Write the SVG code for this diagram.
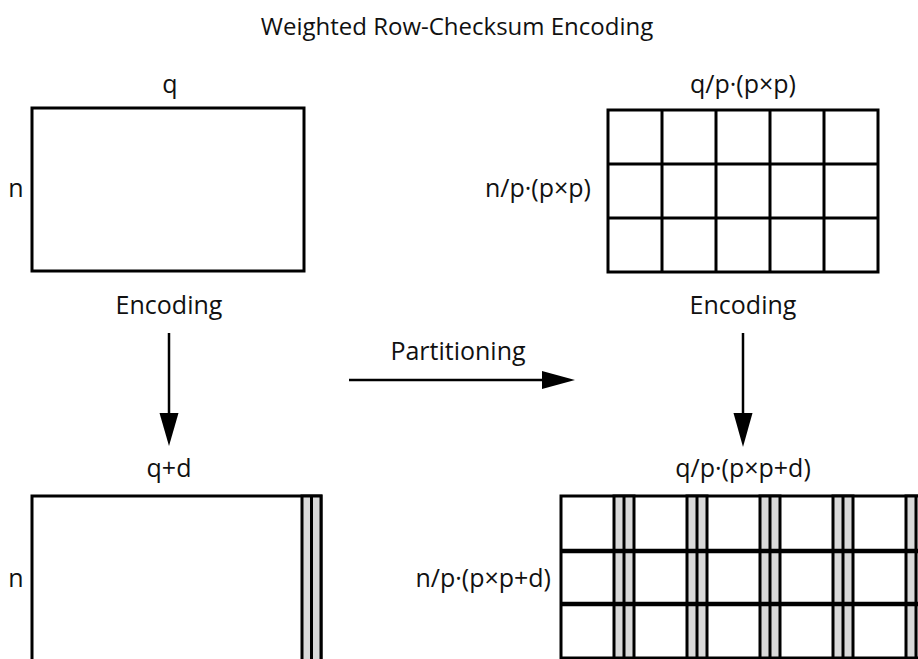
<svg xmlns="http://www.w3.org/2000/svg" width="918" height="659" viewBox="0 0 918 659">
  <style>
    text { font-family: "Open Sans", "Noto Sans", sans-serif; font-size: 25px; fill: #111; }
    .title { font-size: 24px; }
    .box { fill: #fff; stroke: #000; stroke-width: 3; }
    .ln { stroke: #000; stroke-width: 3; fill: none; }
    .hl { stroke: #000; stroke-width: 4.5; fill: none; }
    .strip { fill: #d9d9d9; stroke: #000; stroke-width: 3; }
    .arrow { stroke: #000; stroke-width: 2.5; fill: none; }
    .head { fill: #000; stroke: none; }
  </style>
  <rect width="918" height="659" fill="#fff"/>

  <text class="title" x="457" y="35" text-anchor="middle">Weighted Row-Checksum Encoding</text>

  <g id="matrix-original">
    <rect class="box" x="32" y="108" width="272" height="163"/>
    <text x="170" y="93" text-anchor="middle">q</text>
    <text x="16" y="197" text-anchor="middle">n</text>
  </g>

  <g id="matrix-partitioned">
    <rect class="box" x="608" y="110" width="270" height="162"/>
    <line class="ln" x1="662" y1="110" x2="662" y2="272"/>
    <line class="ln" x1="716" y1="110" x2="716" y2="272"/>
    <line class="ln" x1="770" y1="110" x2="770" y2="272"/>
    <line class="ln" x1="824" y1="110" x2="824" y2="272"/>
    <line class="ln" x1="608" y1="164" x2="878" y2="164"/>
    <line class="ln" x1="608" y1="218" x2="878" y2="218"/>
    <text x="743" y="93" text-anchor="middle">q/p·(p×p)</text>
    <text x="591" y="197" text-anchor="end">n/p·(p×p)</text>
  </g>

  <g id="matrix-encoded">
    <rect class="box" x="32" y="496" width="289" height="190"/>
    <rect class="strip" x="302" y="496" width="19" height="190"/>
    <line class="ln" x1="311.5" y1="496" x2="311.5" y2="686"/>
    <text x="169" y="477" text-anchor="middle">q+d</text>
    <text x="16" y="587" text-anchor="middle">n</text>
  </g>

  <g id="matrix-partitioned-encoded">
    <rect class="box" x="561" y="496" width="380" height="162"/>
    <rect class="strip" x="614" y="496" width="20" height="162"/>
    <line class="ln" x1="624" y1="496" x2="624" y2="658"/>
    <rect class="strip" x="687" y="496" width="20" height="162"/>
    <line class="ln" x1="697" y1="496" x2="697" y2="658"/>
    <rect class="strip" x="760" y="496" width="20" height="162"/>
    <line class="ln" x1="770" y1="496" x2="770" y2="658"/>
    <rect class="strip" x="833" y="496" width="20" height="162"/>
    <line class="ln" x1="843" y1="496" x2="843" y2="658"/>
    <rect class="strip" x="906" y="496" width="20" height="162"/>
    <line class="ln" x1="916" y1="496" x2="916" y2="658"/>
    <line class="hl" x1="561" y1="551" x2="930" y2="551"/>
    <line class="hl" x1="561" y1="604" x2="930" y2="604"/>
    <text x="743" y="477" text-anchor="middle">q/p·(p×p+d)</text>
    <text x="551" y="587" text-anchor="end">n/p·(p×p+d)</text>
  </g>

  <g id="connectors">
    <text x="169" y="314" text-anchor="middle">Encoding</text>
    <line class="arrow" x1="169" y1="333" x2="169" y2="414"/>
    <polygon class="head" points="159.5,413 178.5,413 169,446"/>

    <text x="743" y="314" text-anchor="middle">Encoding</text>
    <line class="arrow" x1="743" y1="333" x2="743" y2="414"/>
    <polygon class="head" points="733.5,413 752.5,413 743,447"/>

    <text x="458" y="360" text-anchor="middle">Partitioning</text>
    <line class="arrow" x1="349" y1="380" x2="543" y2="380"/>
    <polygon class="head" points="542,371 542,389 575,380"/>
  </g>
</svg>
